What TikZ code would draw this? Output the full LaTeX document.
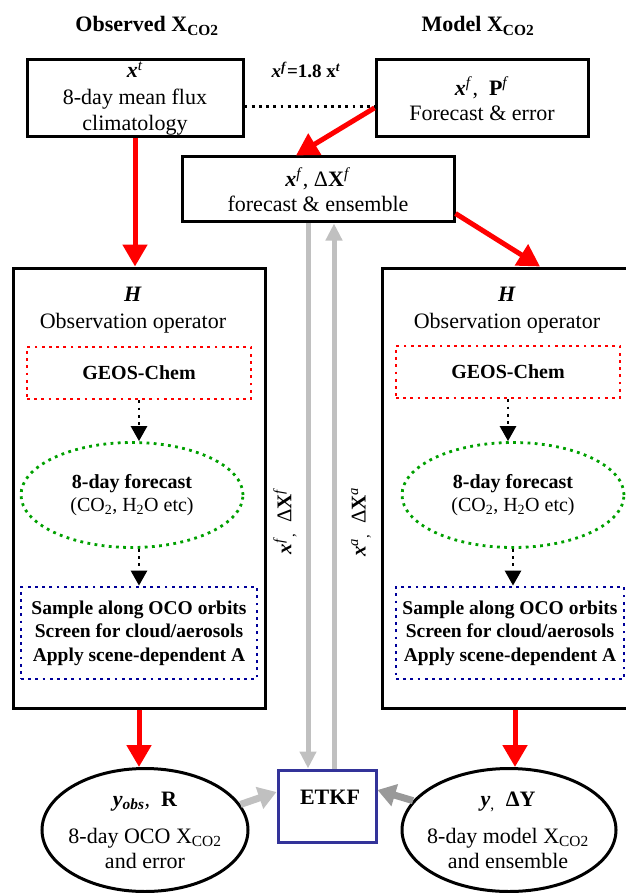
\documentclass[tikz,border=0pt]{standalone}
\usepackage{fontspec}
\setmainfont{Liberation Serif}
\usetikzlibrary{arrows.meta,shapes.geometric,calc}
\definecolor{lgray}{HTML}{C0C0C0}
\definecolor{dgray}{HTML}{999999}
\definecolor{dgreen}{HTML}{00A000}
\definecolor{navyb}{HTML}{000099}
\definecolor{etkfblue}{HTML}{333399}
\newcommand{\myfs}[2]{\fontsize{#1}{#2}\selectfont}
\newcommand{\bix}[1]{\textbf{\textit{#1}}}
\tikzset{
  box/.style={draw=black, line width=3pt, rectangle, inner sep=0pt, align=center},
  hbox/.style={draw=black, line width=3pt, rectangle, inner sep=0pt},
  dotline/.style={line width=2.8pt, dash pattern=on 2.8pt off 4.4pt, line cap=butt},
  geos/.style={draw=red, dotline, rectangle, inner sep=0pt, font=\bfseries\myfs{20}{24}},
  fcst/.style={draw=dgreen, dotline, ellipse, inner sep=0pt, align=center, font=\myfs{20}{23}},
  samp/.style={draw=navyb, dotline, rectangle, inner sep=0pt, align=center, font=\bfseries\myfs{19.5}{23.5}},
  redarrow/.style={draw=red, line width=5pt, -{Triangle[length=22pt,width=24pt]}},
  grayarrow/.style={draw=lgray, line width=5pt, -{Triangle[length=17pt,width=16pt]}},
  dotarrow/.style={draw=black, dotline, -{Triangle[length=15pt,width=16pt]}},
  outell/.style={draw=black, line width=3pt, ellipse, inner sep=0pt},
  txt/.style={inner sep=0pt, align=center},
}
\begin{document}
\begin{tikzpicture}[x=1pt,y=-1pt]
\useasboundingbox (0,0) rectangle (625,893);

% titles
\node[txt, anchor=base, font=\bfseries\myfs{22}{26}] (tObs) at (147,32) {Observed X\textsubscript{CO2}};
\node[txt, anchor=base, font=\bfseries\myfs{22}{26}] (tMod) at (478,32) {Model X\textsubscript{CO2}};

% top boxes
\node[box, minimum width=216pt, minimum height=77pt, font=\myfs{22}{26.5}] (xt) at (135,98.5)
  {\bix{x}\textsuperscript{\textit{t}}\\8-day mean flux\\climatology};
\node[box, minimum width=212pt, minimum height=77pt, font=\myfs{22}{25}] (xf) at (482,98.5)
  {\bix{x}\textsuperscript{\textit{f}},\ \ \textbf{P}\textsuperscript{\textit{f}}\\Forecast \& error};
\node[txt, font=\bfseries\myfs{19}{22}] (rel) at (306,70)
  {\textit{x}\textsuperscript{\textit{f}}=1.8 x\textsuperscript{\textit{t}}};
\draw[black, dotline] ($(xt.east)+(0,8)$) -- ($(xf.west)+(0,8)$);

\node[box, minimum width=272pt, minimum height=65pt, font=\myfs{22}{25}] (ens) at (318,189.5)
  {\bix{x}\textsuperscript{\textit{f}}, Δ\textbf{X}\textsuperscript{\textit{f}}\\forecast \& ensemble};

% H boxes
\node[hbox, minimum width=252pt, minimum height=440pt] (hL) at (139,488) {};
\node[hbox, minimum width=252pt, minimum height=440pt] (hR) at (508,488) {};
\node[txt, font=\myfs{22}{27}] (hLt) at (133,310) {\bix{H}\\Observation operator};
\node[txt, font=\myfs{22}{27}] (hRt) at (507,310) {\bix{H}\\Observation operator};

\node[geos, minimum width=224pt, minimum height=52pt] (geosL) at (139,373) {GEOS-Chem};
\node[geos, minimum width=224pt, minimum height=52pt] (geosR) at (508,372) {GEOS-Chem};

\node[fcst, minimum width=222pt, minimum height=105pt] (fL) at (132,495)
  {\textbf{8-day forecast}\\(CO\textsubscript{2}, H\textsubscript{2}O etc)};
\node[fcst, minimum width=222pt, minimum height=105pt] (fR) at (513,495)
  {\textbf{8-day forecast}\\(CO\textsubscript{2}, H\textsubscript{2}O etc)};

\node[samp, minimum width=236pt, minimum height=92pt] (sL) at (139,633)
  {Sample along OCO orbits\\Screen for cloud/aerosols\\Apply scene-dependent A};
\node[samp, minimum width=228pt, minimum height=92pt] (sR) at (510,633)
  {Sample along OCO orbits\\Screen for cloud/aerosols\\Apply scene-dependent A};

\draw[dotarrow] (geosL.south) -- (geosL.south |- fL.north);
\draw[dotarrow] (sL.north |- fL.south) -- (sL.north);
\draw[dotarrow] (geosR.south) -- (geosR.south |- fR.north);
\draw[dotarrow] (fR.south) -- (fR.south |- sR.north);

% ETKF
\node[draw=etkfblue, line width=3pt, rectangle, minimum width=98pt, minimum height=72pt, inner sep=0pt] (etkf) at (327,806) {};
\node[txt, font=\bfseries\myfs{22}{26}] (etkft) at (330,797) {ETKF};

% bottom ellipses
\node[outell, minimum width=206pt, minimum height=123pt] (yobs) at (145,830) {};
\node[outell, minimum width=214pt, minimum height=123pt] (yy) at (509,830) {};
\node[txt, font=\myfs{22}{25}] (yobst) at (145,830)
  {\bix{y}\textsubscript{\bix{obs}}\textit{,}\ \ \textbf{R}\\[12pt]8-day OCO X\textsubscript{CO2}\\and error};
\node[txt, font=\myfs{22}{25}] (yyt) at (508,830)
  {\bix{y}\textsubscript{,}\ \ \textbf{ΔY}\\[12pt]8-day model X\textsubscript{CO2}\\and ensemble};

% rotated labels
\node[txt, rotate=90, font=\myfs{21}{24}] (lf) at (285,521)
  {\bix{x}\textsuperscript{\textit{f}}\textsubscript{,}\ \ Δ\textbf{X}\textsuperscript{\textit{f}}};
\node[txt, rotate=90, font=\myfs{21}{24}] (la) at (361,522)
  {\bix{x}\textsuperscript{\textit{a}}\textsubscript{,}\ \ Δ\textbf{X}\textsuperscript{\textit{a}}};

% red arrows
\draw[redarrow] (xt.south) -- (xt.south |- hL.north);
\draw[redarrow] (xf.185) -- ($(ens.north)+(-22,0)$);
\draw[redarrow] ($(ens.south east)+(0,-10)$) -- ($(hR.north)+(32,0)$);
\draw[redarrow] (hL.south) -- (hL.south |- yobs.north);
\coordinate (r3) at ($(hR.south)+(7,0)$);
\draw[redarrow] (r3) -- (r3 |- yy.north);

% gray arrows
\coordinate (g1) at (308,0);
\coordinate (g2) at (334,0);
\draw[grayarrow] (ens.south -| g1) -- (etkf.north -| g1);
\draw[grayarrow] (etkf.north -| g2) -- (ens.south -| g2);
\draw[lgray, line width=7pt, -{Triangle[length=18pt,width=22pt]}] (yobs.15) -- ($(etkf.west)+(0,-14)$);
\draw[dgray, line width=7pt, -{Triangle[length=18pt,width=22pt]}] (yy.163) -- ($(etkf.east)+(0,-16)$);
\end{tikzpicture}
\end{document}
